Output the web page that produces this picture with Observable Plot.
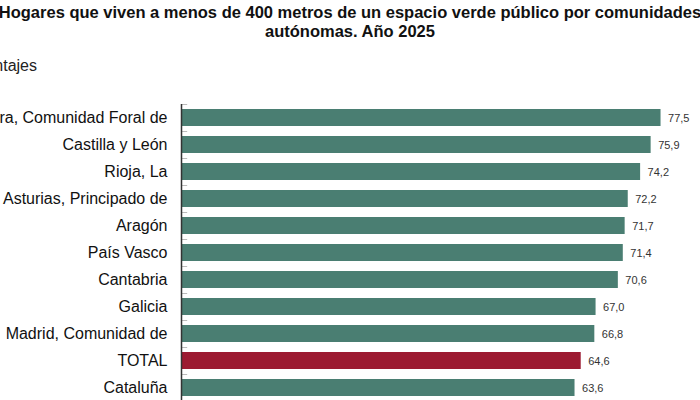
<!DOCTYPE html>
<html>
<head>
<meta charset="utf-8">
<script src="https://cdn.jsdelivr.net/npm/d3@7"></script>
<script src="https://cdn.jsdelivr.net/npm/@observablehq/plot@0.6"></script>
<style>
  html, body { margin: 0; padding: 0; background: #fff; overflow: hidden; width: 700px; height: 400px; }
  #wrap { position: relative; width: 700px; height: 400px; overflow: hidden; }
  #title { position: absolute; left: -100px; width: 900px; top: 3px; text-align: center;
    font: bold 16.5px "Liberation Sans", Arial, sans-serif; line-height: 19px; color: #111; white-space: nowrap; }
  #subtitle { position: absolute; left: -200px; width: 237px; top: 57px; text-align: right;
    font: 16px "Liberation Sans", Arial, sans-serif; color: #222; white-space: nowrap; }
  #chart { position: absolute; left: 0; top: 90px; }
</style>
</head>
<body>
<div id="wrap">
  <div id="title">Hogares que viven a menos de 400 metros de un espacio verde público por comunidades<br>autónomas. Año 2025</div>
  <div id="subtitle">Porcentajes</div>
  <div id="chart"></div>
</div>
<script>
const regions = [
  "Navarra, Comunidad Foral de",
  "Castilla y León",
  "Rioja, La",
  "Asturias, Principado de",
  "Aragón",
  "País Vasco",
  "Cantabria",
  "Galicia",
  "Madrid, Comunidad de",
  "TOTAL",
  "Cataluña"
];
const values = [77.5, 75.9, 74.2, 72.2, 71.7, 71.4, 70.6, 67.0, 66.8, 64.6, 63.6];
const highlight = "TOTAL";

const data = regions.map((r, i) => ({region: r, value: values[i]}));
const fmt = v => v.toFixed(1).replace(".", ",");

const chart = Plot.plot({
  width: 700,
  height: 321,
  marginTop: 14,
  marginBottom: 10,
  marginLeft: 181,
  marginRight: 24,
  style: {background: "transparent", fontFamily: "'Liberation Sans', Arial, sans-serif"},
  x: {domain: [0, 80], axis: null},
  y: {domain: regions, paddingInner: 0.37, paddingOuter: 0.185, label: null},
  marks: [
    Plot.barX(data, {
      y: "region", x: "value",
      fill: d => d.region === highlight ? "#9c1a31" : "#4a7e72"
    }),
    Plot.ruleY(data, {y: "region", x1: 0, x2: 1, dy: -13.5, stroke: "#bbb", strokeWidth: 1}),
    Plot.ruleX([0], {stroke: "#333", strokeWidth: 1.5}),
    Plot.text(data, {
      y: "region", x: "value", text: d => fmt(d.value),
      dx: 7, textAnchor: "start", fontSize: 11, fill: "#333"
    }),
    Plot.axisY({tickSize: 0, tickPadding: 14, fontSize: 16, fill: "#111", label: null})
  ]
});
document.getElementById("chart").append(chart);
</script>
</body>
</html>
